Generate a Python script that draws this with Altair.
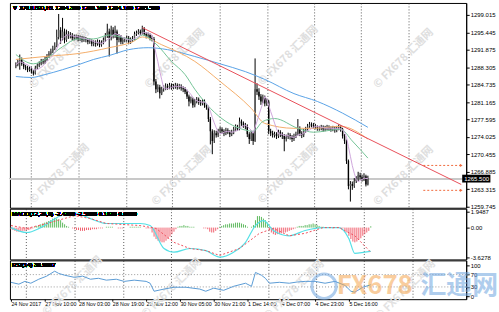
import json
import altair as alt
import pandas as pd

# ---------------- data ----------------
closes = [
    1288.8, 1289.5, 1289.9, 1289.0, 1288.4, 1288.2, 1287.8, 1288.0, 1287.4, 1287.0,
    1288.2, 1288.6, 1289.0, 1289.5, 1289.3, 1289.9, 1290.5, 1291.1, 1291.5, 1292.1,
    1292.7, 1294.5, 1295.9, 1294.3, 1295.6, 1293.9, 1295.1, 1294.7, 1294.9, 1294.3,
    1294.5, 1294.5, 1294.1, 1294.3, 1293.9, 1294.1, 1293.9, 1293.5, 1293.7, 1293.1,
    1293.3, 1293.1, 1293.5, 1292.9, 1293.3, 1293.9, 1294.7, 1295.6, 1294.3, 1296.0,
    1294.9, 1295.6, 1293.9, 1294.5, 1293.5, 1293.9, 1293.9, 1294.3, 1293.5, 1293.9,
    1294.1, 1295.1, 1295.3, 1295.6, 1295.3, 1296.2, 1295.1, 1294.7, 1294.9, 1294.3,
    1294.1, 1285.4, 1283.8, 1284.2, 1283.0, 1283.8, 1284.0, 1284.4, 1284.2, 1284.6,
    1284.2, 1284.4, 1284.6, 1284.2, 1284.4, 1284.0, 1283.8, 1283.3, 1282.3, 1281.3,
    1281.7, 1280.5, 1281.3, 1281.7, 1281.1, 1280.9, 1281.3, 1280.5, 1280.1, 1277.7,
    1275.2, 1273.2, 1274.8, 1274.4, 1275.2, 1275.6, 1275.2, 1274.8, 1275.4, 1275.0,
    1274.6, 1275.0, 1275.6, 1276.0, 1275.8, 1277.2, 1276.8, 1276.4, 1276.2, 1274.6,
    1273.6, 1274.8, 1273.2, 1283.8, 1283.3, 1282.3, 1281.3, 1282.1, 1280.9, 1281.3,
    1275.2, 1274.8, 1274.4, 1274.6, 1274.2, 1275.0, 1274.6, 1274.2, 1273.6, 1274.0,
    1274.4, 1274.0, 1273.6, 1274.2, 1274.6, 1275.8, 1274.8, 1274.4, 1275.2, 1275.6,
    1276.2, 1276.6, 1276.4, 1276.2, 1276.0, 1275.8, 1275.8, 1276.0, 1275.6, 1275.8,
    1276.0, 1275.8, 1275.6, 1275.8, 1275.4, 1275.8, 1276.0, 1275.6, 1274.2, 1273.2,
    1269.1, 1264.0, 1264.4, 1264.0, 1265.0, 1265.4, 1266.2, 1265.8, 1265.4, 1266.0,
    1264.3, 1265.5,
]
highs = [
    1289.3, 1289.9, 1290.9, 1290.3, 1289.4, 1288.8, 1288.6, 1288.5, 1288.3, 1287.7,
    1288.6, 1289.1, 1289.5, 1290.0, 1290.0, 1290.4, 1291.0, 1291.6, 1292.1, 1292.7,
    1293.4, 1296.0, 1299.2, 1296.5, 1298.4, 1296.2, 1296.0, 1295.7, 1295.5, 1295.3,
    1295.0, 1295.0, 1294.9, 1294.8, 1294.7, 1294.6, 1294.5, 1294.3, 1294.2, 1294.0,
    1293.8, 1293.8, 1294.0, 1293.9, 1293.8, 1294.4, 1295.3, 1297.2, 1296.2, 1296.8,
    1296.5, 1296.8, 1296.0, 1295.1, 1294.9, 1294.4, 1294.4, 1294.8, 1294.7, 1294.4,
    1294.7, 1295.6, 1295.8, 1296.1, 1296.0, 1296.8, 1296.5, 1295.5, 1295.4, 1295.2,
    1294.8, 1294.5, 1285.9, 1284.8, 1284.7, 1284.3, 1284.6, 1285.0, 1284.9, 1285.1,
    1285.0, 1284.9, 1285.1, 1285.0, 1284.9, 1284.8, 1284.4, 1284.2, 1283.7, 1282.7,
    1282.3, 1282.1, 1281.8, 1282.2, 1282.1, 1281.6, 1281.8, 1281.7, 1280.9, 1280.4,
    1278.1, 1275.6, 1275.4, 1275.3, 1275.7, 1276.1, 1276.0, 1275.6, 1275.9, 1275.8,
    1275.4, 1275.5, 1276.1, 1276.6, 1276.5, 1278.0, 1277.6, 1277.2, 1276.9, 1276.6,
    1275.0, 1275.3, 1275.1, 1290.1, 1285.0, 1284.0, 1282.8, 1282.7, 1282.5, 1281.9,
    1281.6, 1275.7, 1275.3, 1275.1, 1275.0, 1275.5, 1275.4, 1275.0, 1274.6, 1274.5,
    1274.9, 1274.8, 1274.4, 1274.7, 1275.1, 1277.7, 1276.2, 1275.2, 1275.7, 1276.1,
    1276.7, 1277.1, 1277.0, 1276.9, 1276.7, 1276.4, 1276.3, 1276.5, 1276.4, 1276.3,
    1276.5, 1276.4, 1276.2, 1276.3, 1276.2, 1276.3, 1276.6, 1276.4, 1275.9, 1274.6,
    1273.5, 1269.4, 1265.0, 1264.9, 1265.6, 1266.0, 1266.9, 1266.7, 1266.3, 1266.6,
    1266.3, 1266.1,
]
lows = [
    1288.1, 1288.5, 1287.8, 1288.6, 1287.9, 1287.7, 1287.3, 1287.4, 1287.0, 1286.6,
    1286.8, 1287.9, 1288.3, 1288.7, 1288.9, 1289.0, 1289.6, 1290.2, 1290.7, 1291.2,
    1291.8, 1292.4, 1294.0, 1293.1, 1293.8, 1293.2, 1293.5, 1294.1, 1294.2, 1293.8,
    1293.8, 1294.0, 1293.6, 1293.7, 1293.4, 1293.5, 1293.4, 1293.0, 1293.1, 1292.6,
    1292.6, 1292.5, 1292.7, 1292.4, 1292.5, 1293.0, 1293.5, 1294.3, 1290.5, 1293.8,
    1294.2, 1294.3, 1291.1, 1293.4, 1293.0, 1293.0, 1293.4, 1293.5, 1293.0, 1293.1,
    1293.5, 1293.8, 1294.7, 1295.0, 1294.9, 1295.0, 1294.7, 1294.2, 1294.3, 1293.8,
    1293.6, 1284.6, 1283.0, 1283.2, 1281.9, 1282.6, 1283.3, 1283.6, 1283.7, 1283.8,
    1283.7, 1283.8, 1283.9, 1283.7, 1283.8, 1283.5, 1283.2, 1282.8, 1281.8, 1280.3,
    1280.9, 1280.0, 1280.1, 1280.9, 1280.6, 1280.4, 1280.5, 1280.0, 1279.6, 1277.1,
    1272.5, 1270.5, 1272.8, 1273.9, 1274.0, 1274.8, 1274.7, 1274.2, 1274.4, 1274.6,
    1274.0, 1274.2, 1274.6, 1275.2, 1275.3, 1275.4, 1276.3, 1275.9, 1275.6, 1274.0,
    1272.6, 1273.2, 1272.4, 1273.0, 1282.6, 1281.6, 1280.6, 1280.9, 1280.3, 1280.4,
    1274.6, 1274.2, 1273.9, 1273.9, 1273.6, 1273.8, 1274.0, 1273.6, 1271.1, 1273.1,
    1273.6, 1273.5, 1273.0, 1273.2, 1273.8, 1274.3, 1274.2, 1273.8, 1274.0, 1274.9,
    1275.3, 1275.9, 1276.0, 1275.8, 1275.6, 1275.3, 1275.3, 1275.4, 1275.1, 1275.2,
    1275.4, 1275.3, 1275.1, 1275.2, 1274.9, 1275.0, 1275.4, 1275.1, 1273.7, 1272.6,
    1268.5, 1263.3, 1260.8, 1263.2, 1263.6, 1264.6, 1265.0, 1265.3, 1264.9, 1265.0,
    1263.9, 1264.1,
]
first_open = 1288.5

# moving averages (bar index, price)
ma_blue_i = [0, 8, 15, 24, 32, 40, 48, 58, 68, 78, 92, 105, 118, 128, 143, 155, 168, 181]
ma_blue_v = [1286.4, 1286.2, 1286.8, 1287.8, 1288.8, 1289.9, 1290.7, 1291.9, 1292.3, 1291.9,
             1290.5, 1289.0, 1287.4, 1285.8, 1282.9, 1281.3, 1278.9, 1276.0]
ma_orange_i = [0, 15, 32, 48, 60, 65, 75, 92, 105, 121, 128, 143, 153, 167, 181]
ma_orange_v = [1289.9, 1290.5, 1291.1, 1292.3, 1293.5, 1294.5, 1292.9, 1289.5, 1285.4,
               1279.9, 1276.8, 1275.8, 1275.8, 1276.2, 1273.6]
ma_green_i = [0, 9, 15, 24, 32, 40, 48, 61, 65, 72, 80, 87, 92, 100, 108, 115, 122, 127,
              133, 145, 153, 167, 173, 181]
ma_green_v = [1290.9, 1289.0, 1289.9, 1292.5, 1294.1, 1294.1, 1294.9, 1293.9, 1294.9,
              1293.1, 1289.5, 1286.8, 1283.8, 1279.9, 1277.2, 1275.8, 1275.2, 1277.2,
              1277.8, 1275.8, 1275.0, 1275.6, 1273.2, 1269.7]

trend_i = [65, 229]
trend_v = [1296.4, 1264.3]

level_prices = [1268.2, 1263.1]
level_start = 209.5
level_end = 229

price_ticks = [1299.015, 1295.445, 1291.875, 1288.305, 1284.735, 1281.165, 1277.595,
               1274.025, 1270.455, 1266.885, 1263.315, 1259.745]
last_price = 1265.5
last_price_label = "1265.500"

macd_hist = [
    -0.2, -0.3, -0.4, -0.5, -0.5, -0.5, -0.4, -0.4, -0.3, -0.3,
    -0.2, -0.1,
    0.1, 0.2, 0.3, 0.4, 0.5, 0.6, 0.7, 0.8, 0.9, 1.1, 1.2, 1.1, 1.0, 0.9, 0.6, 0.4, 0.2, 0.1, 0.0,
    -0.1, -0.2, -0.3, -0.3, -0.4, -0.4, -0.4, -0.3, -0.3, -0.3, -0.2, -0.2, -0.2, -0.1, -0.1, -0.1, 0.0, 0.1,
    0.1, 0.1, 0.1, 0.0, 0.0, -0.1, -0.1, -0.1, 0.0, 0.0, 0.0, 0.1, 0.1, 0.1, 0.1, 0.1, 0.1, 0.0, 0.0, -0.1, -0.1, -0.1,
    -0.6, -1.1, -1.4, -1.6, -1.7, -1.8, -1.8, -1.6, -1.4, -1.1, -0.8, -0.5, -0.2,
    0.1, 0.2, 0.2, 0.3, 0.2, 0.2, 0.1, 0.1, 0.1,
    0.0, 0.0, 0.0, 0.0, -0.1, -0.1,
    -0.2, -0.5, -0.6, -0.6, -0.4, -0.2,
    0.1, 0.2, 0.3, 0.4, 0.4, 0.5, 0.5, 0.5, 0.6, 0.6, 0.6, 0.5, 0.4, 0.3,
    0.1, 0.0, 0.1, 0.3,
    0.9, 1.4, 1.4, 1.3, 1.1, 0.9, 0.6,
    -0.3, -0.6, -0.8, -0.9, -0.8, -0.8, -0.7, -0.6, -0.6, -0.5, -0.4, -0.3, -0.2, -0.1,
    0.1, 0.2, 0.2, 0.2, 0.3, 0.3, 0.4, 0.4, 0.5, 0.4, 0.3, 0.2, 0.1, 0.1, 0.0,
    0.0, 0.0, 0.0, -0.1, 0.0, 0.0, 0.0, -0.1,
    -0.1, -0.3, -0.6, -1.0, -1.4, -1.7, -1.8, -1.7, -1.5, -1.3, -1.0, -0.8, -0.6, -0.4, 0.16,
]
macd_i = [0, 8, 15, 25, 32, 40, 48, 57, 65, 70, 77, 82, 90, 98, 105, 112, 118, 123, 127,
          132, 140, 148, 157, 165, 170, 173, 178, 181]
macd_v = [0.0, -0.6, 0.0, 1.45, 1.8, 1.1, 0.5, 0.5, 0.5, 0.25, -2.55, -3.0, -2.55, -2.8,
          -3.6, -3.0, -1.8, 0.25, 0.85, -0.35, -1.0, -0.35, 0.0, 0.0, -1.35, -3.15, -3.0, -2.9]
signal_i = [0, 8, 18, 32, 40, 48, 65, 73, 82, 90, 98, 105, 115, 125, 132, 140, 148, 157,
            165, 173, 181]
signal_v = [0.25, -0.1, 0.5, 1.45, 1.1, 0.5, 0.25, -0.1, -1.8, -2.55, -2.8, -3.4, -2.55,
            -0.7, -0.1, -1.0, -0.7, 0.0, 0.0, -1.0, -3.0]
macd_ticks = [1.9487, 0.0, -3.6278]
macd_tick_labels = ["1.9487", "0.00", "-3.6278"]

rsi_i = [0, 4, 7, 10, 14, 18, 22, 24, 27, 32, 36, 40, 44, 48, 53, 57, 62, 68, 70, 72, 77,
         82, 88, 95, 98, 102, 107, 112, 118, 121, 123, 126, 128, 130, 135, 140, 144, 148,
         153, 158, 163, 168, 171, 173, 177, 181]
rsi_v = [45, 39, 48, 42, 55, 65, 81, 74, 68, 61, 65, 55, 58, 52, 55, 48, 52, 48, 42, 16, 23,
         29, 29, 23, 16, 26, 19, 32, 42, 32, 77, 68, 58, 42, 45, 42, 46, 48, 48, 42, 48, 35,
         16, 13, 29, 37]
rsi_ticks = [100, 70, 30, 0]
rsi_levels = [70, 30]

time_idx = [0, 17, 34, 51, 68, 85, 102, 119, 136, 153, 170]
time_labels = ["24 Nov 2017", "27 Nov 10:00", "28 Nov 03:00", "28 Nov 19:00", "29 Nov 12:00",
               "30 Nov 05:00", "30 Nov 21:00", "1 Dec 14:00", "4 Dec 07:00", "4 Dec 23:00",
               "5 Dec 16:00"]
grid_idx = [7.5, 32, 56.5, 80.5, 105, 129.5, 153.5, 177.5, 202]

main_title = "▼ XAUUSD,H1  1264.300 1266.100 1264.100 1265.500"
macd_title = "MACD(12,26,9) -2.4300 -2.5938 0.1638 0.0000"
rsi_title = "RSI(14) 36.9887"
watermark = "© FX678 汇通网"

# ---------------- frames ----------------
n = len(closes)
opens = [first_open] + closes[:-1]
candles = pd.DataFrame({"i": list(range(n)), "open": opens, "close": closes,
                        "high": highs, "low": lows})
candles["up"] = [c >= o for o, c in zip(opens, closes)]

trend = pd.DataFrame({"i": trend_i, "v": trend_v})
levels = pd.DataFrame({"a": [level_start] * len(level_prices),
                       "b": [level_end] * len(level_prices), "p": level_prices})
hist = pd.DataFrame({"i": list(range(n)), "h": macd_hist})
macd_df = pd.DataFrame({"i": macd_i, "v": macd_v})
sig_df = pd.DataFrame({"i": signal_i, "v": signal_v})
rsi_df = pd.DataFrame({"i": rsi_i, "v": rsi_v})

W = 459
H_MAIN, H_MACD, H_RSI = 206, 51, 39
FONT = "Liberation Sans"
FS = 6

xs = alt.Scale(domain=[-0.5, 229], nice=False, zero=False)
x_grid_axis = alt.Axis(values=grid_idx, grid=True, gridDash=[1, 2], gridColor="#333333",
                       gridWidth=0.8, labels=False, ticks=False, domain=False, title=None,
                       minExtent=0, maxExtent=0, offset=0, labelPadding=0, tickSize=0)


def X(field="i"):
    return alt.X(f"{field}:Q", scale=xs, axis=x_grid_axis)


# ---------------- main panel ----------------
ys = alt.Scale(domain=[1259.54, 1301.46], nice=False, zero=False)
price_axis = alt.Axis(orient="right", values=price_ticks, format=".3f", title=None,
                      labelFontSize=FS, labelFont=FONT, tickSize=3, labelPadding=1,
                      labelOverlap=False, labelBound=False, labelFlush=False,
                      grid=False, domainColor="black", tickColor="black")


def Y(field):
    return alt.Y(f"{field}:Q", scale=ys, axis=price_axis)


base = alt.Chart(candles)

wm_main = pd.DataFrame({"t": [watermark] * 8,
                        "px": [50, 166, 280, 396, 50, 173, 280, 396],
                        "py": [56, 56, 53, 56, 172, 174, 172, 174]})
wm_layer = alt.Chart(wm_main).mark_text(angle=315, fontSize=11, font="Noto Sans CJK SC",
                                        color="#dedede", fontWeight="bold").encode(
    x=alt.X("px:Q", scale=None), y=alt.Y("py:Q", scale=None), text="t:N")

last_line = alt.Chart(candles).mark_rule(color="#c8c8c8", strokeWidth=1).encode(
    y=alt.YDatum(last_price, scale=ys, axis=price_axis))


def ma_line(ii, vv, color):
    df = pd.DataFrame({"i": ii, "v": vv})
    return alt.Chart(df).mark_line(strokeWidth=1, interpolate="monotone", color=color).encode(
        x=X(), y=Y("v"))


blue_line = ma_line(ma_blue_i, ma_blue_v, "#5aa2e6")
orange_line = ma_line(ma_orange_i, ma_orange_v, "#f4ad6a")
green_line = ma_line(ma_green_i, ma_green_v, "#74c496")

lilac = base.transform_window(sma="mean(close)", frame=[-5, 0]).mark_line(
    strokeWidth=1, color="#cfa6dc").encode(x=X(), y=Y("sma"))

trend_line = alt.Chart(trend).mark_line(color="#e8505a", strokeWidth=1).encode(
    x=X(), y=Y("v"))

wicks = base.mark_rule(color="black", strokeWidth=1).encode(
    x=X(), y=Y("low"), y2="high:Q")
bodies_up = base.transform_filter("datum.up").mark_bar(size=1.4, color="#555555").encode(
    x=X(), y=Y("open"), y2="close:Q")
bodies_dn = base.transform_filter("!datum.up").mark_bar(size=1.4, color="#000000").encode(
    x=X(), y=Y("open"), y2="close:Q")

level_rules = alt.Chart(levels).mark_rule(color="#f06a3c", strokeWidth=1,
                                          strokeDash=[2, 2]).encode(
    x=alt.X("a:Q", scale=xs, axis=x_grid_axis), x2="b:Q", y=Y("p"))
level_heads = alt.Chart(levels).mark_point(shape="triangle-right", filled=True, size=10,
                                           color="#f06a3c", opacity=1).encode(
    x=alt.X("b:Q", scale=xs, axis=x_grid_axis), y=Y("p"))

title_main = alt.Chart(candles).mark_text(align="left", baseline="middle", fontSize=FS,
                                          font=FONT, color="black", x=2, y=5,
                                          text=main_title)

# current-price badge on the price axis (placed in bar-index space just right of the plot)
box_df = pd.DataFrame({"a": [229.5], "b": [244.0], "p": [last_price],
                       "lo": [last_price - 0.8], "hi": [last_price + 0.8],
                       "t": [last_price_label]})
price_box = alt.Chart(box_df).mark_rect(color="black").encode(
    x=alt.X("a:Q", scale=xs, axis=x_grid_axis), x2="b:Q", y=Y("lo"), y2="hi:Q")
price_box_text = alt.Chart(box_df).mark_text(align="left", baseline="middle", fontSize=FS,
                                             font=FONT, color="white", dx=2).encode(
    x=alt.X("a:Q", scale=xs, axis=x_grid_axis), y=Y("p"), text="t:N")

main = alt.layer(wm_layer, last_line, wicks, bodies_up, bodies_dn, blue_line, orange_line,
                 green_line, lilac, trend_line, level_rules, level_heads, title_main,
                 price_box, price_box_text).properties(width=W, height=H_MAIN)

# ---------------- MACD panel ----------------
ym = alt.Scale(domain=[-3.88, 2.30], nice=False, zero=False)
macd_axis = alt.Axis(orient="right", values=macd_ticks, title=None, labelFontSize=FS,
                     labelFont=FONT, tickSize=3, labelPadding=1, grid=False,
                     labelOverlap=False, labelBound=False, labelFlush=False,
                     labelExpr=f"{json.dumps(macd_tick_labels)}[indexof({json.dumps(macd_ticks)}, datum.value)]")

hist_pos = alt.Chart(hist).transform_filter("datum.h >= 0").mark_rule(
    strokeWidth=1, color="#5cb85c").encode(
    x=X(), y=alt.Y("h:Q", scale=ym, axis=macd_axis), y2=alt.Y2Datum(0))
hist_neg = alt.Chart(hist).transform_filter("datum.h < 0").mark_rule(
    strokeWidth=1, color="#f0606e").encode(
    x=X(), y=alt.Y("h:Q", scale=ym, axis=macd_axis), y2=alt.Y2Datum(0))
macd_line = alt.Chart(macd_df).mark_line(color="#55e0e6", strokeWidth=1.2,
                                         interpolate="monotone").encode(
    x=X(), y=alt.Y("v:Q", scale=ym, axis=macd_axis))
sig_line = alt.Chart(sig_df).mark_line(color="#ef4f5c", strokeWidth=1, strokeDash=[2, 2]).encode(
    x=X(), y=alt.Y("v:Q", scale=ym, axis=macd_axis))
macd_text = alt.Chart(hist).mark_text(align="left", baseline="middle", fontSize=FS,
                                      font=FONT, color="black", x=2, y=5, text=macd_title)

macd = alt.layer(hist_pos, hist_neg, macd_line, sig_line, macd_text).properties(
    width=W, height=H_MACD)

# ---------------- RSI panel ----------------
yr = alt.Scale(domain=[-9.7, 116], nice=False, zero=False)
rsi_axis = alt.Axis(orient="right", values=rsi_ticks, title=None, labelFontSize=FS,
                    labelFont=FONT, tickSize=3, labelPadding=1, grid=False,
                    labelOverlap=False, labelBound=False, labelFlush=False)
time_axis = alt.Axis(orient="bottom", values=time_idx, title=None, labelFontSize=5.3,
                     labelFont=FONT, labelAlign="left", labelBaseline="top", tickSize=2,
                     labelPadding=0, labelOverlap=False, labelBound=False, labelFlush=False,
                     grid=False, domain=False,
                     labelExpr=f"{json.dumps(time_labels)}[round(datum.value / 17)]")

rsi_levels_df = pd.DataFrame({"lv": rsi_levels})
rsi_lv = alt.Chart(rsi_levels_df).mark_rule(color="#999999", strokeDash=[1, 2],
                                            strokeWidth=1).encode(
    y=alt.Y("lv:Q", scale=yr, axis=rsi_axis))
rsi_line = alt.Chart(rsi_df).mark_line(color="#5b9bd5", strokeWidth=1).encode(
    x=X(), y=alt.Y("v:Q", scale=yr, axis=rsi_axis))
time_layer = alt.Chart(pd.DataFrame({"t": time_idx, "y": [50] * len(time_idx)})).mark_point(
    opacity=0).encode(
    x=alt.X("t:Q", scale=xs, axis=time_axis), y=alt.Y("y:Q", scale=yr, axis=rsi_axis))
rsi_text = alt.Chart(rsi_df).mark_text(align="left", baseline="middle", fontSize=FS,
                                       font=FONT, color="black", x=2, y=5, text=rsi_title)

wm_bottom = pd.DataFrame({"t": [watermark] * 4, "px": [63, 163, 286, 398],
                          "py": [26, 28, 30, 30]})
wm_b = alt.Chart(wm_bottom).mark_text(angle=315, fontSize=11, font="Noto Sans CJK SC",
                                      color="#e2e2e2", fontWeight="bold").encode(
    x=alt.X("px:Q", scale=None), y=alt.Y("py:Q", scale=None), text="t:N")

logo_df = pd.DataFrame({"t": ["FX678", "汇通网"], "px": [367, 452], "py": [26, 26],
                        "c": ["#f5a650", "#6fa6e0"]})
logo = alt.Chart(logo_df).mark_text(fontSize=26, fontWeight="bold", font="Noto Sans CJK SC",
                                    opacity=0.55, baseline="middle").encode(
    x=alt.X("px:Q", scale=None), y=alt.Y("py:Q", scale=None), text="t:N",
    color=alt.Color("c:N", scale=None))
ring = alt.Chart(pd.DataFrame({"px": [316], "py": [26]})).mark_point(
    shape="circle", size=600, strokeWidth=3, color="#6fa6e0", opacity=0.55).encode(
    x=alt.X("px:Q", scale=None), y=alt.Y("py:Q", scale=None))

rsi = alt.layer(wm_b, rsi_lv, rsi_line, time_layer, rsi_text, ring, logo).resolve_axis(
    x="independent").properties(width=W, height=H_RSI)

chart = alt.vconcat(main, macd, rsi, spacing=1, bounds="flush").properties(
    padding={"left": 7, "top": 1, "right": 0, "bottom": 0},
    background="white",
).configure_view(stroke="black", strokeWidth=1).configure_axis(
    labelColor="black", domainColor="black", tickColor="black")

chart.save("out.html", embed_options={"renderer": "svg", "actions": False})
